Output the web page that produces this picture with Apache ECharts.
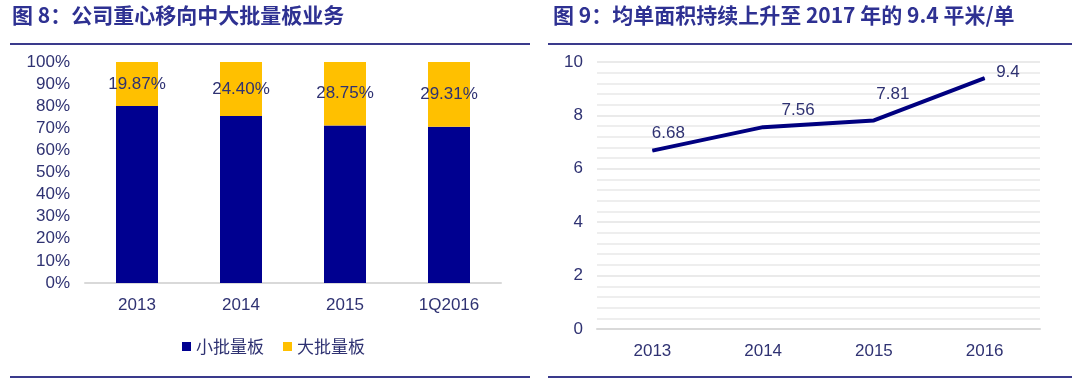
<!DOCTYPE html>
<html>
<head>
<meta charset="utf-8">
<script src="https://cdn.jsdelivr.net/npm/echarts@6/dist/echarts.min.js"></script>
<style>html,body{margin:0;padding:0;background:#fff}#c{width:1080px;height:387px}</style>
</head>
<body>
<div id="c"></div>
<script>
// ---- data ----
const barCategories = ['2013', '2014', '2015', '1Q2016'];
const smallBatch = [80.13, 75.60, 71.25, 70.69];
const largeBatch = [19.87, 24.40, 28.75, 29.31];
const pctTicks = [0, 10, 20, 30, 40, 50, 60, 70, 80, 90, 100];
const lineCategories = ['2013', '2014', '2015', '2016'];
const avgArea = [6.68, 7.56, 7.81, 9.4];
const areaTicks = [0, 2, 4, 6, 8, 10];
const seriesNames = ['小批量板', '大批量板'];
const title1 = '图 8：公司重心移向中大批量板业务';
const title2 = '图 9：均单面积持续上升至 2017 年的 9.4 平米/单';

const navy = '#2E3192';
const txt = '#2F3272';
const font = 'Arial, "Liberation Sans", sans-serif';
const cjk = '"Noto Sans CJK SC", sans-serif';
const lineLabelOffsets = [[16, 0], [35, 0], [19, -9], [3, -6]];
const lineLabelPos = ['top', 'top', 'top', 'right'];

const chart = echarts.init(document.getElementById('c'));
chart.setOption({
  backgroundColor: '#fff',
  animation: false,
  graphic: [
    {type: 'text', left: 12, top: 5, style: {text: title1, font: 'bold 21px ' + cjk, fill: navy}},
    {type: 'text', left: 553, top: 5, style: {text: title2, font: 'bold 21px ' + cjk, fill: navy}},
    {type: 'line', shape: {x1: 10, y1: 44, x2: 530, y2: 44}, style: {stroke: '#3A3A8C', lineWidth: 2}},
    {type: 'line', shape: {x1: 548, y1: 44, x2: 1072, y2: 44}, style: {stroke: '#3A3A8C', lineWidth: 2}},
    {type: 'line', shape: {x1: 10, y1: 377, x2: 530, y2: 377}, style: {stroke: '#3A3A8C', lineWidth: 2}},
    {type: 'line', shape: {x1: 548, y1: 377, x2: 1072, y2: 377}, style: {stroke: '#3A3A8C', lineWidth: 2}}
  ],
  legend: {
    data: seriesNames,
    left: 177, top: 333,
    icon: 'rect', itemWidth: 9, itemHeight: 9, itemGap: 19,
    textStyle: {color: txt, fontSize: 17, fontFamily: cjk}
  },
  grid: [
    {left: 85, top: 62, width: 416, height: 221},
    {left: 597, top: 62, width: 443, height: 267}
  ],
  xAxis: [
    {type: 'category', gridIndex: 0, data: barCategories,
     axisLine: {lineStyle: {color: '#D9D9D9', width: 2}}, axisTick: {show: false},
     axisLabel: {color: txt, fontSize: 17, fontFamily: font, margin: 14}},
    {type: 'category', gridIndex: 1, data: lineCategories,
     axisLine: {lineStyle: {color: '#D9D9D9', width: 2}}, axisTick: {show: false},
     axisLabel: {color: txt, fontSize: 17, fontFamily: font, margin: 14}}
  ],
  yAxis: [
    {type: 'value', gridIndex: 0, min: pctTicks[0], max: pctTicks[pctTicks.length - 1], interval: 10,
     axisLabel: {color: txt, fontSize: 17, fontFamily: font, margin: 15, formatter: v => v + '%'},
     splitLine: {show: false}, axisLine: {show: false}, axisTick: {show: false}},
    {type: 'value', gridIndex: 1, min: areaTicks[0], max: areaTicks[areaTicks.length - 1], interval: 2,
     axisLabel: {color: txt, fontSize: 17, fontFamily: font, margin: 14},
     splitLine: {show: true, lineStyle: {color: '#EAEAEA', width: 2}},
     minorTick: {show: false, splitNumber: 5},
     minorSplitLine: {show: true, lineStyle: {color: '#EEEEEE', width: 2}},
     axisLine: {show: false}, axisTick: {show: false}}
  ],
  series: [
    {name: seriesNames[0], type: 'bar', stack: 's', xAxisIndex: 0, yAxisIndex: 0,
     data: smallBatch, barWidth: 42, itemStyle: {color: '#000090'}},
    {name: seriesNames[1], type: 'bar', stack: 's', xAxisIndex: 0, yAxisIndex: 0,
     data: largeBatch, barWidth: 42, itemStyle: {color: '#FFC000'},
     label: {show: true, position: 'inside', color: txt, fontSize: 17, fontFamily: font,
             formatter: p => p.value.toFixed(2) + '%'}},
    {name: 'avg', type: 'line', xAxisIndex: 1, yAxisIndex: 1,
     data: avgArea.map((v, i) => ({value: v, label: {position: lineLabelPos[i], offset: lineLabelOffsets[i]}})),
     showSymbol: true, symbol: 'circle', symbolSize: 1, itemStyle: {color: '#000080'},
     lineStyle: {color: '#000080', width: 4},
     label: {show: true, color: txt, fontSize: 17, fontFamily: font, distance: 8}}
  ]
});
</script>
</body>
</html>
